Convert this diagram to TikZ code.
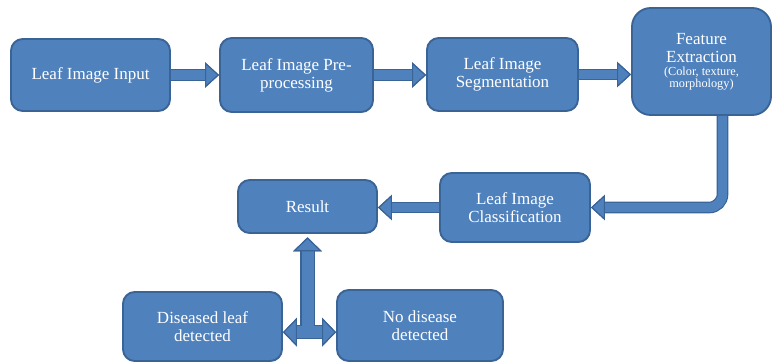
\documentclass[tikz,border=0pt]{standalone}
\usepackage{fontspec}
\setmainfont{Liberation Serif}
\newfontfamily\boxfont{Liberation Serif}
\usepackage{xcolor}
\usetikzlibrary{arrows.meta,positioning,calc}

\definecolor{boxblue}{HTML}{4F81BD}
\definecolor{edgeblue}{HTML}{3A6396}

\tikzset{
  blocktip/.tip={Triangle[length=0.42cm, width=0.76cm, fill=boxblue, color=edgeblue, line width=1pt]},
  bigtip/.tip={Triangle[length=0.42cm, width=0.86cm, fill=boxblue, color=edgeblue, line width=1pt]},
}

\begin{document}
\begin{tikzpicture}[
  stage/.style={draw=edgeblue, line width=1.6pt, fill=boxblue, rounded corners=10pt,
                text=white, align=center, inner sep=2pt,
                font=\boxfont\fontsize{14.5}{15.5}\selectfont},
  flow/.style={draw=boxblue, line width=0.28cm, -blocktip,
               preaction={draw=edgeblue, line width=0.28cm+2pt}},
  fork/.style={draw=boxblue, line width=0.36cm,
               preaction={draw=edgeblue, line width=0.36cm+2pt}},
]
\useasboundingbox (0,0) rectangle (23.16,-10.86);

% top row
\node[stage, minimum width=4.77cm, minimum height=2.16cm] (input) at (2.715,-2.25)
  {Leaf Image Input};
\node[stage, minimum width=4.59cm, minimum height=2.22cm] (pre) at (8.895,-2.25)
  {Leaf Image Pre-\\processing};
\node[stage, minimum width=4.53cm, minimum height=2.19cm] (seg) at (15.075,-2.235)
  {Leaf Image\\Segmentation};
\node[stage, rounded corners=16pt, minimum width=4.17cm, minimum height=3.21cm] (feat) at (21.045,-1.845)
  {Feature\\Extraction\\[-4.5pt]{\fontsize{10.5}{11}\selectfont (Color, texture,}\\[-5.5pt]{\fontsize{10.5}{11}\selectfont morphology)}};

% middle row
\node[stage, minimum width=4.5cm, minimum height=2.07cm] (cls) at (15.45,-6.225)
  {Leaf Image\\Classification};
\node[stage, minimum width=4.17cm, minimum height=1.59cm] (res) at (9.225,-6.195)
  {Result};

% outcomes
\node[stage, minimum width=4.77cm, minimum height=2.07cm] (dis) at (6.075,-9.795)
  {Diseased leaf\\detected};
\node[stage, minimum width=4.98cm, minimum height=2.13cm] (nod) at (12.6,-9.765)
  {No disease\\detected};

\draw[flow] (input) -- (pre);
\draw[flow] (pre.east) -- (pre.east -| seg.west);
\draw[flow] (seg.east) -- (seg.east -| feat.west);
\draw[flow, rounded corners=0.4cm] ([xshift=0.63cm]feat.south) |- (cls.east);
\draw[flow] (cls.west) -- (cls.west -| res.east);

\coordinate (split) at ($(dis.east)+(0,-0.17)$);
\draw[fork, bigtip-bigtip] (split) -- (split -| nod.west);
\draw[fork, -bigtip, shorten >=0.1cm] ($(split -| res.south)+(0,0.2)$) -- (res.south);
\end{tikzpicture}
\end{document}
